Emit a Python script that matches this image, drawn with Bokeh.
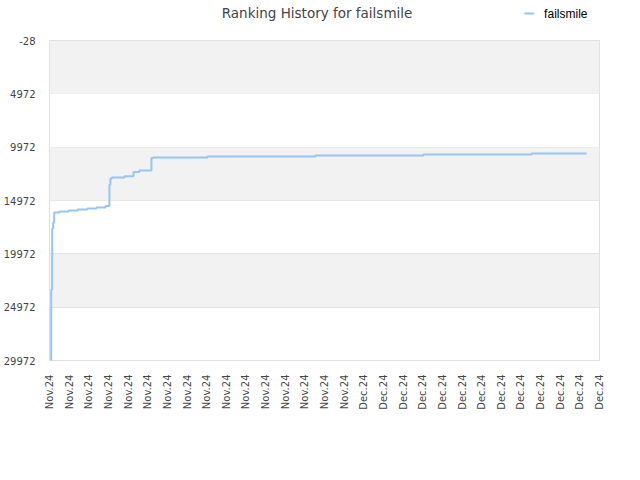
import math
from bokeh.plotting import figure
from bokeh.layouts import column
from bokeh.models import Range1d, FixedTicker, BoxAnnotation
from bokeh.core.properties import value
from bokeh.embed import file_html
from bokeh.resources import INLINE

# ---- data ----
tick_labels = ["Nov.24"] * 16 + ["Dec.24"] * 13
y_ticks = [-28, 4972, 9972, 14972, 19972, 24972, 29972]

# step positions (index along date axis) and ranks
day_pos = [0.05, 0.087, 0.137, 0.19, 0.24, 0.51, 0.97, 1.43, 1.93, 2.39, 2.85,
           3.05, 3.10, 3.18, 3.82, 4.28, 4.58, 5.19, 5.27, 8.04, 13.54, 19.04,
           24.54, 27.34]
rank = [29972, 23316, 17597, 17035, 16097, 16003, 15910, 15816, 15722, 15628, 15488,
        13500, 12909, 12816, 12694, 12300, 12160, 10988, 10941, 10847, 10753, 10660,
        10566, 10566]
series_name = "failsmile"
title_text = "Ranking History for failsmile"

FONT = "DejaVu Sans"
LINE_COLOR = "#96c5f4"
W = 624
HEAD_H = 26
BL, BR = 42, 32  # borders shared by header and chart so their frames line up

# ---- header (title + legend); x range matches the page pixels of the frame ----
head = figure(width=W, height=HEAD_H, output_backend="svg", toolbar_location=None,
              x_range=Range1d(50, 600), y_range=Range1d(HEAD_H, 0),
              min_border_left=BL, min_border_right=BR, min_border_top=0,
              min_border_bottom=0, x_axis_type=None, y_axis_type=None)
head.outline_line_color = None
head.grid.grid_line_color = None
head.background_fill_color = "white"
head.border_fill_color = "white"
head.text(x=[321], y=[12], text=[title_text], text_align="center",
          text_baseline="middle", text_font=value(FONT), text_font_size="13.5px",
          text_color="#444444")
# legend key (kept inside the header frame so nothing is clipped)
head.line(x=[531, 541], y=[13, 13], line_color=LINE_COLOR, line_width=2)
head.text(x=[551], y=[13], text=[series_name], text_align="left",
          text_baseline="middle", text_font=value("Liberation Sans"),
          text_font_size="12px", text_color="#000000")

# ---- main chart ----
p = figure(frame_width=550, frame_height=320, output_backend="svg", toolbar_location=None,
           x_range=Range1d(0, len(tick_labels) - 1),
           y_range=Range1d(y_ticks[-1], y_ticks[0]),
           min_border_left=BL, min_border_right=BR, min_border_top=40 - HEAD_H,
           min_border_bottom=104)

p.background_fill_color = "white"
p.border_fill_color = "white"
p.outline_line_color = "#dddddd"
p.outline_line_width = 1

# alternating bands from the tick values
for i in range(0, len(y_ticks) - 1, 2):
    p.add_layout(BoxAnnotation(bottom=y_ticks[i], top=y_ticks[i + 1],
                               fill_color="#f2f2f2", fill_alpha=1.0,
                               line_color=None, level="underlay"))

p.xgrid.grid_line_color = None
p.ygrid.grid_line_color = "#dedede"
p.ygrid.grid_line_width = 1
p.ygrid.ticker = FixedTicker(ticks=y_ticks)

p.yaxis.ticker = FixedTicker(ticks=y_ticks)
p.yaxis.major_label_overrides = {t: str(t) for t in y_ticks}
p.xaxis.ticker = FixedTicker(ticks=list(range(len(tick_labels))))
p.xaxis.major_label_overrides = {i: lab for i, lab in enumerate(tick_labels)}
p.xaxis.major_label_orientation = math.pi / 2

for ax in (p.xaxis[0], p.yaxis[0]):
    ax.axis_line_color = None
    ax.major_tick_line_color = None
    ax.minor_tick_line_color = None
    ax.major_label_text_font = FONT
    ax.major_label_text_font_size = "10px"
    ax.major_label_text_color = "#444444"
p.yaxis.major_label_standoff = 8
p.xaxis.major_label_standoff = 8

p.step(day_pos, rank, mode="after", line_color=LINE_COLOR, line_width=2)

layout = column(head, p, spacing=0)
open("out.html", "w").write(file_html(layout, INLINE))
